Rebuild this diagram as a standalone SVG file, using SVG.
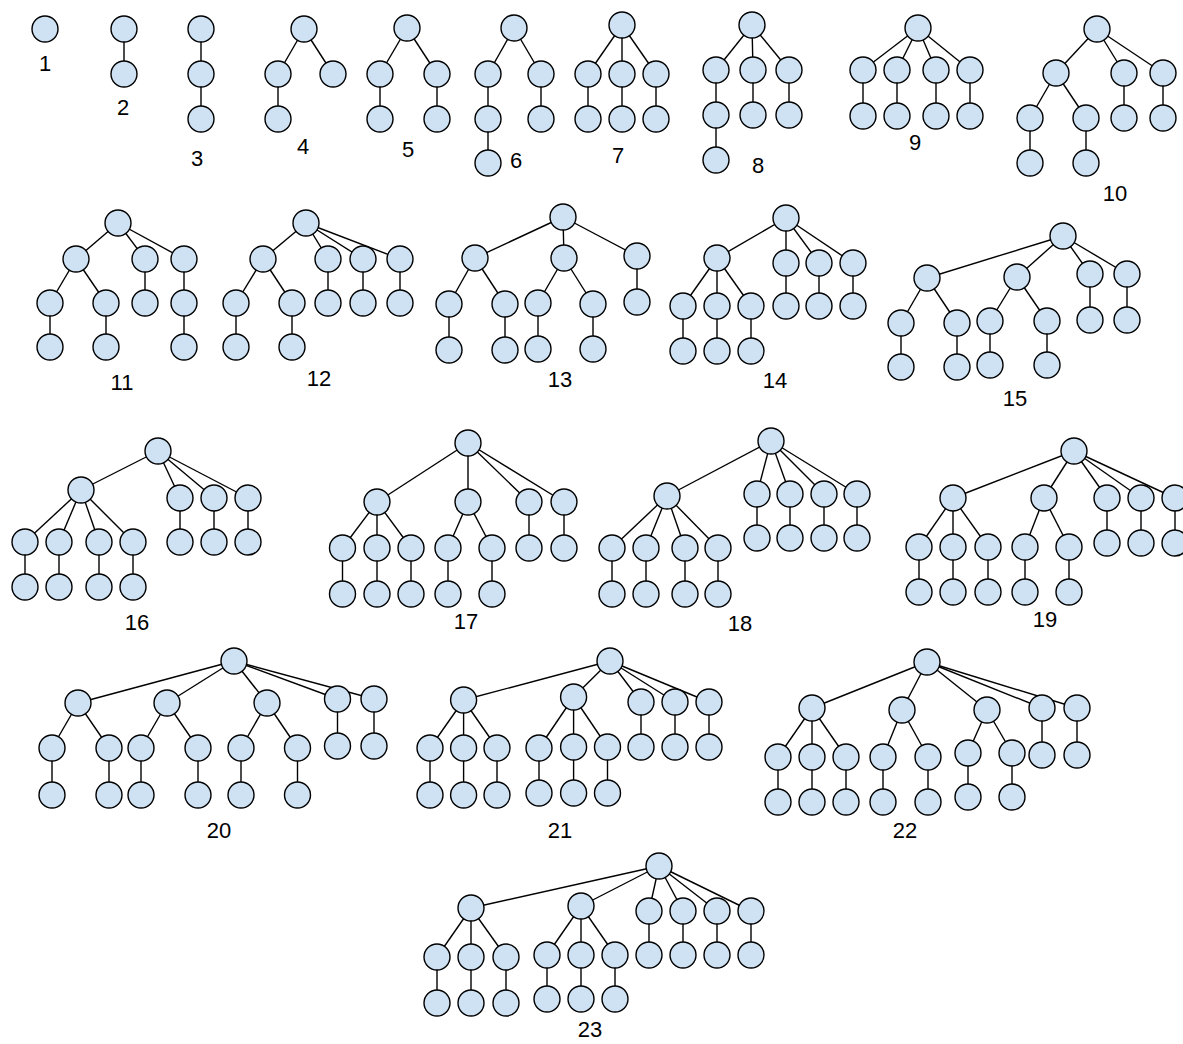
<svg xmlns="http://www.w3.org/2000/svg" width="1183" height="1044" viewBox="0 0 1183 1044">
<style>
.n circle{fill:#cfe2f3;stroke:#000;stroke-width:1.4}
#connectors line{stroke:#000;stroke-width:1.4}
text{font-family:"Liberation Sans",Arial,sans-serif;font-size:22px;fill:#000;text-anchor:middle}
</style>
<rect width="1183" height="1044" fill="#fff"/>
<g id="connectors">
<line x1="124" y1="29" x2="124" y2="74"/>
<line x1="201" y1="29" x2="201" y2="74"/><line x1="201" y1="74" x2="201" y2="119"/>
<line x1="304" y1="29" x2="278" y2="74"/><line x1="278" y1="74" x2="278" y2="119"/><line x1="304" y1="29" x2="333" y2="74"/>
<line x1="407" y1="28" x2="380" y2="74"/><line x1="380" y1="74" x2="380" y2="119"/><line x1="407" y1="28" x2="437" y2="74"/><line x1="437" y1="74" x2="437" y2="119"/>
<line x1="514" y1="28" x2="488" y2="74"/><line x1="488" y1="74" x2="488" y2="163"/><line x1="514" y1="28" x2="541" y2="74"/><line x1="541" y1="74" x2="541" y2="119"/>
<line x1="622" y1="25" x2="588" y2="74"/><line x1="588" y1="74" x2="588" y2="119"/><line x1="622" y1="25" x2="622" y2="119"/><line x1="622" y1="25" x2="656" y2="74"/><line x1="656" y1="74" x2="656" y2="119"/>
<line x1="752" y1="25" x2="716" y2="70"/><line x1="716" y1="70" x2="716" y2="160"/><line x1="752" y1="25" x2="753" y2="70"/><line x1="753" y1="70" x2="753" y2="115"/><line x1="752" y1="25" x2="789" y2="70"/><line x1="789" y1="70" x2="789" y2="115"/>
<line x1="918" y1="28" x2="863" y2="70"/><line x1="918" y1="28" x2="897" y2="70"/><line x1="918" y1="28" x2="936" y2="70"/><line x1="918" y1="28" x2="970" y2="70"/>
<line x1="863" y1="70" x2="863" y2="116"/><line x1="897" y1="70" x2="897" y2="116"/><line x1="936" y1="70" x2="936" y2="116"/><line x1="970" y1="70" x2="970" y2="116"/>
<line x1="1097" y1="29" x2="1056" y2="73"/><line x1="1056" y1="73" x2="1030" y2="118"/><line x1="1030" y1="118" x2="1030" y2="163"/><line x1="1056" y1="73" x2="1086" y2="118"/><line x1="1086" y1="118" x2="1086" y2="163"/><line x1="1097" y1="29" x2="1124" y2="73"/><line x1="1124" y1="73" x2="1124" y2="118"/><line x1="1097" y1="29" x2="1163" y2="73"/><line x1="1163" y1="73" x2="1163" y2="118"/>
<line x1="118" y1="223" x2="76" y2="259"/><line x1="76" y1="259" x2="50" y2="303"/><line x1="50" y1="303" x2="50" y2="347"/><line x1="76" y1="259" x2="106" y2="303"/><line x1="106" y1="303" x2="106" y2="347"/><line x1="118" y1="223" x2="145" y2="259"/><line x1="145" y1="259" x2="145" y2="303"/><line x1="118" y1="223" x2="184" y2="259"/><line x1="184" y1="259" x2="184" y2="347"/>
<line x1="306" y1="223" x2="263" y2="259"/><line x1="263" y1="259" x2="236" y2="303"/><line x1="236" y1="303" x2="236" y2="347"/><line x1="263" y1="259" x2="292" y2="303"/><line x1="292" y1="303" x2="292" y2="347"/><line x1="306" y1="223" x2="328" y2="259"/><line x1="328" y1="259" x2="328" y2="303"/><line x1="306" y1="223" x2="363" y2="259"/><line x1="363" y1="259" x2="363" y2="303"/><line x1="306" y1="223" x2="400" y2="259"/><line x1="400" y1="259" x2="400" y2="303"/>
<line x1="563" y1="217" x2="475" y2="258"/><line x1="475" y1="258" x2="449" y2="304"/><line x1="449" y1="304" x2="449" y2="350"/><line x1="475" y1="258" x2="505" y2="304"/><line x1="505" y1="304" x2="505" y2="350"/><line x1="563" y1="217" x2="564" y2="258"/><line x1="564" y1="258" x2="538" y2="303"/><line x1="538" y1="303" x2="538" y2="349"/><line x1="564" y1="258" x2="593" y2="304"/><line x1="593" y1="304" x2="593" y2="349"/><line x1="563" y1="217" x2="637" y2="256"/><line x1="637" y1="256" x2="637" y2="302"/>
<line x1="786" y1="218" x2="717" y2="258"/><line x1="717" y1="258" x2="683" y2="306"/><line x1="683" y1="306" x2="683" y2="351"/><line x1="717" y1="258" x2="717" y2="351"/><line x1="717" y1="258" x2="751" y2="306"/><line x1="751" y1="306" x2="751" y2="351"/><line x1="786" y1="218" x2="786" y2="306"/><line x1="786" y1="218" x2="819" y2="263"/><line x1="819" y1="263" x2="819" y2="306"/><line x1="786" y1="218" x2="853" y2="263"/><line x1="853" y1="263" x2="853" y2="306"/>
<line x1="1063" y1="236" x2="927" y2="278"/><line x1="927" y1="278" x2="901" y2="323"/><line x1="901" y1="323" x2="901" y2="367"/><line x1="927" y1="278" x2="957" y2="323"/><line x1="957" y1="323" x2="957" y2="367"/><line x1="1063" y1="236" x2="1017" y2="277"/><line x1="1017" y1="277" x2="990" y2="321"/><line x1="990" y1="321" x2="990" y2="365"/><line x1="1017" y1="277" x2="1047" y2="321"/><line x1="1047" y1="321" x2="1047" y2="365"/><line x1="1063" y1="236" x2="1090" y2="274"/><line x1="1090" y1="274" x2="1090" y2="320"/><line x1="1063" y1="236" x2="1127" y2="274"/><line x1="1127" y1="274" x2="1127" y2="320"/>
<line x1="158" y1="451" x2="81" y2="490"/><line x1="81" y1="490" x2="25" y2="542"/><line x1="81" y1="490" x2="59" y2="542"/><line x1="81" y1="490" x2="99" y2="542"/><line x1="81" y1="490" x2="133" y2="542"/>
<line x1="25" y1="542" x2="25" y2="587"/><line x1="59" y1="542" x2="59" y2="587"/><line x1="99" y1="542" x2="99" y2="587"/><line x1="133" y1="542" x2="133" y2="587"/>
<line x1="158" y1="451" x2="180" y2="498"/><line x1="158" y1="451" x2="214" y2="498"/><line x1="158" y1="451" x2="248" y2="498"/><line x1="180" y1="498" x2="180" y2="542"/><line x1="214" y1="498" x2="214" y2="542"/><line x1="248" y1="498" x2="248" y2="542"/>
<line x1="468" y1="443" x2="377" y2="502"/><line x1="377" y1="502" x2="342.5" y2="548"/><line x1="377" y1="502" x2="377" y2="594"/><line x1="377" y1="502" x2="411" y2="548"/><line x1="342.5" y1="548" x2="342.5" y2="594"/><line x1="411" y1="548" x2="411" y2="594"/>
<line x1="468" y1="443" x2="468" y2="502"/><line x1="468" y1="502" x2="448" y2="548"/><line x1="468" y1="502" x2="492" y2="548"/><line x1="448" y1="548" x2="448" y2="594"/><line x1="492" y1="548" x2="492" y2="594"/>
<line x1="468" y1="443" x2="529" y2="502"/><line x1="468" y1="443" x2="564" y2="502"/><line x1="529" y1="502" x2="529" y2="548"/><line x1="564" y1="502" x2="564" y2="548"/>
<line x1="771" y1="441" x2="667" y2="496"/><line x1="667" y1="496" x2="612" y2="548"/><line x1="667" y1="496" x2="646" y2="548"/><line x1="667" y1="496" x2="685" y2="548"/><line x1="667" y1="496" x2="718" y2="548"/>
<line x1="612" y1="548" x2="612" y2="594"/><line x1="646" y1="548" x2="646" y2="594"/><line x1="685" y1="548" x2="685" y2="594"/><line x1="718" y1="548" x2="718" y2="594"/>
<line x1="771" y1="441" x2="757" y2="494"/><line x1="771" y1="441" x2="790" y2="494"/><line x1="771" y1="441" x2="824" y2="494"/><line x1="771" y1="441" x2="857" y2="494"/>
<line x1="757" y1="494" x2="757" y2="538"/><line x1="790" y1="494" x2="790" y2="538"/><line x1="824" y1="494" x2="824" y2="538"/><line x1="857" y1="494" x2="857" y2="538"/>
<line x1="1074" y1="451" x2="953" y2="498"/><line x1="953" y1="498" x2="919" y2="547"/><line x1="953" y1="498" x2="953" y2="592"/><line x1="953" y1="498" x2="988" y2="547"/><line x1="919" y1="547" x2="919" y2="592"/><line x1="988" y1="547" x2="988" y2="592"/>
<line x1="1074" y1="451" x2="1044" y2="498"/><line x1="1044" y1="498" x2="1025" y2="547"/><line x1="1044" y1="498" x2="1069" y2="547"/><line x1="1025" y1="547" x2="1025" y2="592"/><line x1="1069" y1="547" x2="1069" y2="592"/>
<line x1="1074" y1="451" x2="1107" y2="498"/><line x1="1074" y1="451" x2="1141" y2="498"/><line x1="1074" y1="451" x2="1175" y2="498"/><line x1="1107" y1="498" x2="1107" y2="543"/><line x1="1141" y1="498" x2="1141" y2="543"/><line x1="1175" y1="498" x2="1175" y2="543"/>
<line x1="234" y1="661" x2="78" y2="703"/><line x1="234" y1="661" x2="167" y2="703"/><line x1="234" y1="661" x2="267" y2="703"/><line x1="234" y1="661" x2="337.5" y2="699"/><line x1="234" y1="661" x2="374" y2="699"/>
<line x1="78" y1="703" x2="52" y2="748"/><line x1="78" y1="703" x2="109" y2="748"/><line x1="167" y1="703" x2="141" y2="748"/><line x1="167" y1="703" x2="198" y2="748"/><line x1="267" y1="703" x2="241" y2="748"/><line x1="267" y1="703" x2="297.5" y2="748"/>
<line x1="52" y1="748" x2="52" y2="795"/><line x1="109" y1="748" x2="109" y2="795"/><line x1="141" y1="748" x2="141" y2="795"/><line x1="198" y1="748" x2="198" y2="795"/><line x1="241" y1="748" x2="241" y2="795"/><line x1="297.5" y1="748" x2="297.5" y2="795"/>
<line x1="337.5" y1="699" x2="337.5" y2="746"/><line x1="374" y1="699" x2="374" y2="746"/>
<line x1="610" y1="661" x2="463.6" y2="700"/><line x1="610" y1="661" x2="573.6" y2="697"/><line x1="610" y1="661" x2="641" y2="702"/><line x1="610" y1="661" x2="675" y2="702"/><line x1="610" y1="661" x2="709" y2="702"/>
<line x1="463.6" y1="700" x2="430" y2="748"/><line x1="463.6" y1="700" x2="463.6" y2="795"/><line x1="463.6" y1="700" x2="497" y2="748"/><line x1="430" y1="748" x2="430" y2="795"/><line x1="497" y1="748" x2="497" y2="795"/>
<line x1="573.6" y1="697" x2="539" y2="748"/><line x1="573.6" y1="697" x2="573.6" y2="793"/><line x1="573.6" y1="697" x2="607.5" y2="747"/><line x1="539" y1="748" x2="539" y2="793"/><line x1="607.5" y1="747" x2="607.5" y2="793"/>
<line x1="641" y1="702" x2="641" y2="747"/><line x1="675" y1="702" x2="675" y2="747"/><line x1="709" y1="702" x2="709" y2="747"/>
<line x1="927" y1="662" x2="812" y2="708"/><line x1="927" y1="662" x2="902" y2="710"/><line x1="927" y1="662" x2="987" y2="710"/><line x1="927" y1="662" x2="1042" y2="708"/><line x1="927" y1="662" x2="1077" y2="708"/>
<line x1="812" y1="708" x2="778" y2="757"/><line x1="812" y1="708" x2="812" y2="802"/><line x1="812" y1="708" x2="846" y2="757"/><line x1="778" y1="757" x2="778" y2="802"/><line x1="846" y1="757" x2="846" y2="802"/>
<line x1="902" y1="710" x2="883" y2="757"/><line x1="902" y1="710" x2="928" y2="757"/><line x1="883" y1="757" x2="883" y2="802"/><line x1="928" y1="757" x2="928" y2="802"/>
<line x1="987" y1="710" x2="968" y2="753"/><line x1="987" y1="710" x2="1012" y2="753"/><line x1="968" y1="753" x2="968" y2="797"/><line x1="1012" y1="753" x2="1012" y2="797"/>
<line x1="1042" y1="708" x2="1042" y2="755"/><line x1="1077" y1="708" x2="1077" y2="755"/>
<line x1="659" y1="866" x2="471" y2="908"/><line x1="659" y1="866" x2="581" y2="906"/><line x1="659" y1="866" x2="649" y2="911"/><line x1="659" y1="866" x2="683" y2="911"/><line x1="659" y1="866" x2="717" y2="911"/><line x1="659" y1="866" x2="751" y2="911"/>
<line x1="471" y1="908" x2="437" y2="957"/><line x1="471" y1="908" x2="471" y2="1003"/><line x1="471" y1="908" x2="506" y2="957"/><line x1="437" y1="957" x2="437" y2="1003"/><line x1="506" y1="957" x2="506" y2="1003"/>
<line x1="581" y1="906" x2="547" y2="955"/><line x1="581" y1="906" x2="581" y2="999"/><line x1="581" y1="906" x2="615" y2="955"/><line x1="547" y1="955" x2="547" y2="999"/><line x1="615" y1="955" x2="615" y2="999"/>
<line x1="649" y1="911" x2="649" y2="955"/><line x1="683" y1="911" x2="683" y2="955"/><line x1="717" y1="911" x2="717" y2="955"/><line x1="751" y1="911" x2="751" y2="955"/>
</g>
<g class="n">
<g id="t1-a"><circle cx="45" cy="29" r="13"/></g>
<g id="t2-a"><circle cx="124" cy="29" r="13"/></g><g id="t2-b"><circle cx="124" cy="74" r="13"/></g>
<g id="t3-a"><circle cx="201" cy="29" r="13"/></g><g id="t3-b"><circle cx="201" cy="74" r="13"/></g><g id="t3-c"><circle cx="201" cy="119" r="13"/></g>
<g id="t4-a"><circle cx="304" cy="29" r="13"/></g><g id="t4-b"><circle cx="278" cy="74" r="13"/></g><g id="t4-c"><circle cx="278" cy="119" r="13"/></g><g id="t4-d"><circle cx="333" cy="74" r="13"/></g>
<g id="t5-a"><circle cx="407" cy="28" r="13"/></g><g id="t5-b"><circle cx="380" cy="74" r="13"/></g><g id="t5-c"><circle cx="380" cy="119" r="13"/></g><g id="t5-d"><circle cx="437" cy="74" r="13"/></g><g id="t5-e"><circle cx="437" cy="119" r="13"/></g>
<g id="t6-a"><circle cx="514" cy="28" r="13"/></g><g id="t6-b"><circle cx="488" cy="74" r="13"/></g><g id="t6-c"><circle cx="488" cy="119" r="13"/></g><g id="t6-d"><circle cx="488" cy="163" r="13"/></g><g id="t6-e"><circle cx="541" cy="74" r="13"/></g><g id="t6-f"><circle cx="541" cy="119" r="13"/></g>
<g id="t7-a"><circle cx="622" cy="25" r="13"/></g><g id="t7-b"><circle cx="588" cy="74" r="13"/></g><g id="t7-c"><circle cx="588" cy="119" r="13"/></g><g id="t7-d"><circle cx="622" cy="74" r="13"/></g><g id="t7-e"><circle cx="622" cy="119" r="13"/></g><g id="t7-f"><circle cx="656" cy="74" r="13"/></g><g id="t7-g"><circle cx="656" cy="119" r="13"/></g>
<g id="t8-a"><circle cx="752" cy="25" r="13"/></g><g id="t8-b"><circle cx="716" cy="70" r="13"/></g><g id="t8-c"><circle cx="716" cy="115" r="13"/></g><g id="t8-d"><circle cx="716" cy="160" r="13"/></g><g id="t8-e"><circle cx="753" cy="70" r="13"/></g><g id="t8-f"><circle cx="753" cy="115" r="13"/></g><g id="t8-g"><circle cx="789" cy="70" r="13"/></g><g id="t8-h"><circle cx="789" cy="115" r="13"/></g>
<g id="t9-a"><circle cx="918" cy="28" r="13"/></g><g id="t9-b"><circle cx="863" cy="70" r="13"/></g><g id="t9-c"><circle cx="863" cy="116" r="13"/></g><g id="t9-d"><circle cx="897" cy="70" r="13"/></g><g id="t9-e"><circle cx="897" cy="116" r="13"/></g><g id="t9-f"><circle cx="936" cy="70" r="13"/></g><g id="t9-g"><circle cx="936" cy="116" r="13"/></g><g id="t9-h"><circle cx="970" cy="70" r="13"/></g><g id="t9-i"><circle cx="970" cy="116" r="13"/></g>
<g id="t10-a"><circle cx="1097" cy="29" r="13"/></g><g id="t10-b"><circle cx="1056" cy="73" r="13"/></g><g id="t10-c"><circle cx="1030" cy="118" r="13"/></g><g id="t10-d"><circle cx="1030" cy="163" r="13"/></g><g id="t10-e"><circle cx="1086" cy="118" r="13"/></g><g id="t10-f"><circle cx="1086" cy="163" r="13"/></g><g id="t10-g"><circle cx="1124" cy="73" r="13"/></g><g id="t10-h"><circle cx="1124" cy="118" r="13"/></g><g id="t10-i"><circle cx="1163" cy="73" r="13"/></g><g id="t10-j"><circle cx="1163" cy="118" r="13"/></g>
<g id="t11-a"><circle cx="118" cy="223" r="13"/></g><g id="t11-b"><circle cx="76" cy="259" r="13"/></g><g id="t11-c"><circle cx="50" cy="303" r="13"/></g><g id="t11-d"><circle cx="50" cy="347" r="13"/></g><g id="t11-e"><circle cx="106" cy="303" r="13"/></g><g id="t11-f"><circle cx="106" cy="347" r="13"/></g><g id="t11-g"><circle cx="145" cy="259" r="13"/></g><g id="t11-h"><circle cx="145" cy="303" r="13"/></g><g id="t11-i"><circle cx="184" cy="259" r="13"/></g><g id="t11-j"><circle cx="184" cy="303" r="13"/></g><g id="t11-k"><circle cx="184" cy="347" r="13"/></g>
<g id="t12-a"><circle cx="306" cy="223" r="13"/></g><g id="t12-b"><circle cx="263" cy="259" r="13"/></g><g id="t12-c"><circle cx="236" cy="303" r="13"/></g><g id="t12-d"><circle cx="236" cy="347" r="13"/></g><g id="t12-e"><circle cx="292" cy="303" r="13"/></g><g id="t12-f"><circle cx="292" cy="347" r="13"/></g><g id="t12-g"><circle cx="328" cy="259" r="13"/></g><g id="t12-h"><circle cx="328" cy="303" r="13"/></g><g id="t12-i"><circle cx="363" cy="259" r="13"/></g><g id="t12-j"><circle cx="363" cy="303" r="13"/></g><g id="t12-k"><circle cx="400" cy="259" r="13"/></g><g id="t12-l"><circle cx="400" cy="303" r="13"/></g>
<g id="t13-a"><circle cx="563" cy="217" r="13"/></g><g id="t13-b"><circle cx="475" cy="258" r="13"/></g><g id="t13-c"><circle cx="449" cy="304" r="13"/></g><g id="t13-d"><circle cx="449" cy="350" r="13"/></g><g id="t13-e"><circle cx="505" cy="304" r="13"/></g><g id="t13-f"><circle cx="505" cy="350" r="13"/></g><g id="t13-g"><circle cx="564" cy="258" r="13"/></g><g id="t13-h"><circle cx="538" cy="303" r="13"/></g><g id="t13-i"><circle cx="538" cy="349" r="13"/></g><g id="t13-j"><circle cx="593" cy="304" r="13"/></g><g id="t13-k"><circle cx="593" cy="349" r="13"/></g><g id="t13-l"><circle cx="637" cy="256" r="13"/></g><g id="t13-m"><circle cx="637" cy="302" r="13"/></g>
<g id="t14-a"><circle cx="786" cy="218" r="13"/></g><g id="t14-b"><circle cx="717" cy="258" r="13"/></g><g id="t14-c"><circle cx="683" cy="306" r="13"/></g><g id="t14-d"><circle cx="683" cy="351" r="13"/></g><g id="t14-e"><circle cx="717" cy="306" r="13"/></g><g id="t14-f"><circle cx="717" cy="351" r="13"/></g><g id="t14-g"><circle cx="751" cy="306" r="13"/></g><g id="t14-h"><circle cx="751" cy="351" r="13"/></g><g id="t14-i"><circle cx="786" cy="263" r="13"/></g><g id="t14-j"><circle cx="786" cy="306" r="13"/></g><g id="t14-k"><circle cx="819" cy="263" r="13"/></g><g id="t14-l"><circle cx="819" cy="306" r="13"/></g><g id="t14-m"><circle cx="853" cy="263" r="13"/></g><g id="t14-n"><circle cx="853" cy="306" r="13"/></g>
<g id="t15-a"><circle cx="1063" cy="236" r="13"/></g><g id="t15-b"><circle cx="927" cy="278" r="13"/></g><g id="t15-c"><circle cx="901" cy="323" r="13"/></g><g id="t15-d"><circle cx="901" cy="367" r="13"/></g><g id="t15-e"><circle cx="957" cy="323" r="13"/></g><g id="t15-f"><circle cx="957" cy="367" r="13"/></g><g id="t15-g"><circle cx="1017" cy="277" r="13"/></g><g id="t15-h"><circle cx="990" cy="321" r="13"/></g><g id="t15-i"><circle cx="990" cy="365" r="13"/></g><g id="t15-j"><circle cx="1047" cy="321" r="13"/></g><g id="t15-k"><circle cx="1047" cy="365" r="13"/></g><g id="t15-l"><circle cx="1090" cy="274" r="13"/></g><g id="t15-m"><circle cx="1090" cy="320" r="13"/></g><g id="t15-n"><circle cx="1127" cy="274" r="13"/></g><g id="t15-o"><circle cx="1127" cy="320" r="13"/></g>
<g id="t16-a"><circle cx="158" cy="451" r="13"/></g><g id="t16-b"><circle cx="81" cy="490" r="13"/></g><g id="t16-c"><circle cx="25" cy="542" r="13"/></g><g id="t16-d"><circle cx="25" cy="587" r="13"/></g><g id="t16-e"><circle cx="59" cy="542" r="13"/></g><g id="t16-f"><circle cx="59" cy="587" r="13"/></g><g id="t16-g"><circle cx="99" cy="542" r="13"/></g><g id="t16-h"><circle cx="99" cy="587" r="13"/></g><g id="t16-i"><circle cx="133" cy="542" r="13"/></g><g id="t16-j"><circle cx="133" cy="587" r="13"/></g><g id="t16-k"><circle cx="180" cy="498" r="13"/></g><g id="t16-l"><circle cx="180" cy="542" r="13"/></g><g id="t16-m"><circle cx="214" cy="498" r="13"/></g><g id="t16-n"><circle cx="214" cy="542" r="13"/></g><g id="t16-o"><circle cx="248" cy="498" r="13"/></g><g id="t16-p"><circle cx="248" cy="542" r="13"/></g>
<g id="t17-a"><circle cx="468" cy="443" r="13"/></g><g id="t17-b"><circle cx="377" cy="502" r="13"/></g><g id="t17-c"><circle cx="342.5" cy="548" r="13"/></g><g id="t17-d"><circle cx="342.5" cy="594" r="13"/></g><g id="t17-e"><circle cx="377" cy="548" r="13"/></g><g id="t17-f"><circle cx="377" cy="594" r="13"/></g><g id="t17-g"><circle cx="411" cy="548" r="13"/></g><g id="t17-h"><circle cx="411" cy="594" r="13"/></g><g id="t17-i"><circle cx="468" cy="502" r="13"/></g><g id="t17-j"><circle cx="448" cy="548" r="13"/></g><g id="t17-k"><circle cx="448" cy="594" r="13"/></g><g id="t17-l"><circle cx="492" cy="548" r="13"/></g><g id="t17-m"><circle cx="492" cy="594" r="13"/></g><g id="t17-n"><circle cx="529" cy="502" r="13"/></g><g id="t17-o"><circle cx="529" cy="548" r="13"/></g><g id="t17-p"><circle cx="564" cy="502" r="13"/></g><g id="t17-q"><circle cx="564" cy="548" r="13"/></g>
<g id="t18-a"><circle cx="771" cy="441" r="13"/></g><g id="t18-b"><circle cx="667" cy="496" r="13"/></g><g id="t18-c"><circle cx="612" cy="548" r="13"/></g><g id="t18-d"><circle cx="612" cy="594" r="13"/></g><g id="t18-e"><circle cx="646" cy="548" r="13"/></g><g id="t18-f"><circle cx="646" cy="594" r="13"/></g><g id="t18-g"><circle cx="685" cy="548" r="13"/></g><g id="t18-h"><circle cx="685" cy="594" r="13"/></g><g id="t18-i"><circle cx="718" cy="548" r="13"/></g><g id="t18-j"><circle cx="718" cy="594" r="13"/></g><g id="t18-k"><circle cx="757" cy="494" r="13"/></g><g id="t18-l"><circle cx="757" cy="538" r="13"/></g><g id="t18-m"><circle cx="790" cy="494" r="13"/></g><g id="t18-n"><circle cx="790" cy="538" r="13"/></g><g id="t18-o"><circle cx="824" cy="494" r="13"/></g><g id="t18-p"><circle cx="824" cy="538" r="13"/></g><g id="t18-q"><circle cx="857" cy="494" r="13"/></g><g id="t18-r"><circle cx="857" cy="538" r="13"/></g>
<g id="t19-a"><circle cx="1074" cy="451" r="13"/></g><g id="t19-b"><circle cx="953" cy="498" r="13"/></g><g id="t19-c"><circle cx="919" cy="547" r="13"/></g><g id="t19-d"><circle cx="919" cy="592" r="13"/></g><g id="t19-e"><circle cx="953" cy="547" r="13"/></g><g id="t19-f"><circle cx="953" cy="592" r="13"/></g><g id="t19-g"><circle cx="988" cy="547" r="13"/></g><g id="t19-h"><circle cx="988" cy="592" r="13"/></g><g id="t19-i"><circle cx="1044" cy="498" r="13"/></g><g id="t19-j"><circle cx="1025" cy="547" r="13"/></g><g id="t19-k"><circle cx="1025" cy="592" r="13"/></g><g id="t19-l"><circle cx="1069" cy="547" r="13"/></g><g id="t19-m"><circle cx="1069" cy="592" r="13"/></g><g id="t19-n"><circle cx="1107" cy="498" r="13"/></g><g id="t19-o"><circle cx="1107" cy="543" r="13"/></g><g id="t19-p"><circle cx="1141" cy="498" r="13"/></g><g id="t19-q"><circle cx="1141" cy="543" r="13"/></g><g id="t19-r"><circle cx="1175" cy="498" r="13"/></g><g id="t19-s"><circle cx="1175" cy="543" r="13"/></g>
<g id="t20-a"><circle cx="234" cy="661" r="13"/></g><g id="t20-b"><circle cx="78" cy="703" r="13"/></g><g id="t20-c"><circle cx="52" cy="748" r="13"/></g><g id="t20-d"><circle cx="52" cy="795" r="13"/></g><g id="t20-e"><circle cx="109" cy="748" r="13"/></g><g id="t20-f"><circle cx="109" cy="795" r="13"/></g><g id="t20-g"><circle cx="167" cy="703" r="13"/></g><g id="t20-h"><circle cx="141" cy="748" r="13"/></g><g id="t20-i"><circle cx="141" cy="795" r="13"/></g><g id="t20-j"><circle cx="198" cy="748" r="13"/></g><g id="t20-k"><circle cx="198" cy="795" r="13"/></g><g id="t20-l"><circle cx="267" cy="703" r="13"/></g><g id="t20-m"><circle cx="241" cy="748" r="13"/></g><g id="t20-n"><circle cx="241" cy="795" r="13"/></g><g id="t20-o"><circle cx="297.5" cy="748" r="13"/></g><g id="t20-p"><circle cx="297.5" cy="795" r="13"/></g><g id="t20-q"><circle cx="337.5" cy="699" r="13"/></g><g id="t20-r"><circle cx="337.5" cy="746" r="13"/></g><g id="t20-s"><circle cx="374" cy="699" r="13"/></g><g id="t20-t"><circle cx="374" cy="746" r="13"/></g>
<g id="t21-a"><circle cx="610" cy="661" r="13"/></g><g id="t21-b"><circle cx="463.6" cy="700" r="13"/></g><g id="t21-c"><circle cx="430" cy="748" r="13"/></g><g id="t21-d"><circle cx="430" cy="795" r="13"/></g><g id="t21-e"><circle cx="463.6" cy="748" r="13"/></g><g id="t21-f"><circle cx="463.6" cy="795" r="13"/></g><g id="t21-g"><circle cx="497" cy="748" r="13"/></g><g id="t21-h"><circle cx="497" cy="795" r="13"/></g><g id="t21-i"><circle cx="573.6" cy="697" r="13"/></g><g id="t21-j"><circle cx="539" cy="748" r="13"/></g><g id="t21-k"><circle cx="539" cy="793" r="13"/></g><g id="t21-l"><circle cx="573.6" cy="747" r="13"/></g><g id="t21-m"><circle cx="573.6" cy="793" r="13"/></g><g id="t21-n"><circle cx="607.5" cy="747" r="13"/></g><g id="t21-o"><circle cx="607.5" cy="793" r="13"/></g><g id="t21-p"><circle cx="641" cy="702" r="13"/></g><g id="t21-q"><circle cx="641" cy="747" r="13"/></g><g id="t21-r"><circle cx="675" cy="702" r="13"/></g><g id="t21-s"><circle cx="675" cy="747" r="13"/></g><g id="t21-t"><circle cx="709" cy="702" r="13"/></g><g id="t21-u"><circle cx="709" cy="747" r="13"/></g>
<g id="t22-a"><circle cx="927" cy="662" r="13"/></g><g id="t22-b"><circle cx="812" cy="708" r="13"/></g><g id="t22-c"><circle cx="778" cy="757" r="13"/></g><g id="t22-d"><circle cx="778" cy="802" r="13"/></g><g id="t22-e"><circle cx="812" cy="757" r="13"/></g><g id="t22-f"><circle cx="812" cy="802" r="13"/></g><g id="t22-g"><circle cx="846" cy="757" r="13"/></g><g id="t22-h"><circle cx="846" cy="802" r="13"/></g><g id="t22-i"><circle cx="902" cy="710" r="13"/></g><g id="t22-j"><circle cx="883" cy="757" r="13"/></g><g id="t22-k"><circle cx="883" cy="802" r="13"/></g><g id="t22-l"><circle cx="928" cy="757" r="13"/></g><g id="t22-m"><circle cx="928" cy="802" r="13"/></g><g id="t22-n"><circle cx="987" cy="710" r="13"/></g><g id="t22-o"><circle cx="968" cy="753" r="13"/></g><g id="t22-p"><circle cx="968" cy="797" r="13"/></g><g id="t22-q"><circle cx="1012" cy="753" r="13"/></g><g id="t22-r"><circle cx="1012" cy="797" r="13"/></g><g id="t22-s"><circle cx="1042" cy="708" r="13"/></g><g id="t22-t"><circle cx="1042" cy="755" r="13"/></g><g id="t22-u"><circle cx="1077" cy="708" r="13"/></g><g id="t22-v"><circle cx="1077" cy="755" r="13"/></g>
<g id="t23-a"><circle cx="659" cy="866" r="13"/></g><g id="t23-b"><circle cx="471" cy="908" r="13"/></g><g id="t23-c"><circle cx="437" cy="957" r="13"/></g><g id="t23-d"><circle cx="437" cy="1003" r="13"/></g><g id="t23-e"><circle cx="471" cy="957" r="13"/></g><g id="t23-f"><circle cx="471" cy="1003" r="13"/></g><g id="t23-g"><circle cx="506" cy="957" r="13"/></g><g id="t23-h"><circle cx="506" cy="1003" r="13"/></g><g id="t23-i"><circle cx="581" cy="906" r="13"/></g><g id="t23-j"><circle cx="547" cy="955" r="13"/></g><g id="t23-k"><circle cx="547" cy="999" r="13"/></g><g id="t23-l"><circle cx="581" cy="955" r="13"/></g><g id="t23-m"><circle cx="581" cy="999" r="13"/></g><g id="t23-n"><circle cx="615" cy="955" r="13"/></g><g id="t23-o"><circle cx="615" cy="999" r="13"/></g><g id="t23-p"><circle cx="649" cy="911" r="13"/></g><g id="t23-q"><circle cx="649" cy="955" r="13"/></g><g id="t23-r"><circle cx="683" cy="911" r="13"/></g><g id="t23-s"><circle cx="683" cy="955" r="13"/></g><g id="t23-t"><circle cx="717" cy="911" r="13"/></g><g id="t23-u"><circle cx="717" cy="955" r="13"/></g><g id="t23-v"><circle cx="751" cy="911" r="13"/></g><g id="t23-w"><circle cx="751" cy="955" r="13"/></g>
</g>
<g id="labels">
<text x="45" y="71">1</text><text x="123" y="115">2</text><text x="197" y="166">3</text><text x="303" y="154">4</text><text x="408" y="157">5</text><text x="516" y="168">6</text><text x="618" y="163">7</text><text x="758" y="173">8</text><text x="915" y="150">9</text><text x="1115" y="201">10</text>
<text x="122" y="390">11</text><text x="319" y="386">12</text><text x="560" y="387">13</text><text x="775" y="388">14</text><text x="1015" y="406">15</text>
<text x="137" y="630">16</text><text x="466" y="629">17</text><text x="740" y="631">18</text><text x="1045" y="627">19</text>
<text x="219" y="838">20</text><text x="560" y="838">21</text><text x="905" y="838">22</text><text x="590" y="1037">23</text>
</g>
</svg>
